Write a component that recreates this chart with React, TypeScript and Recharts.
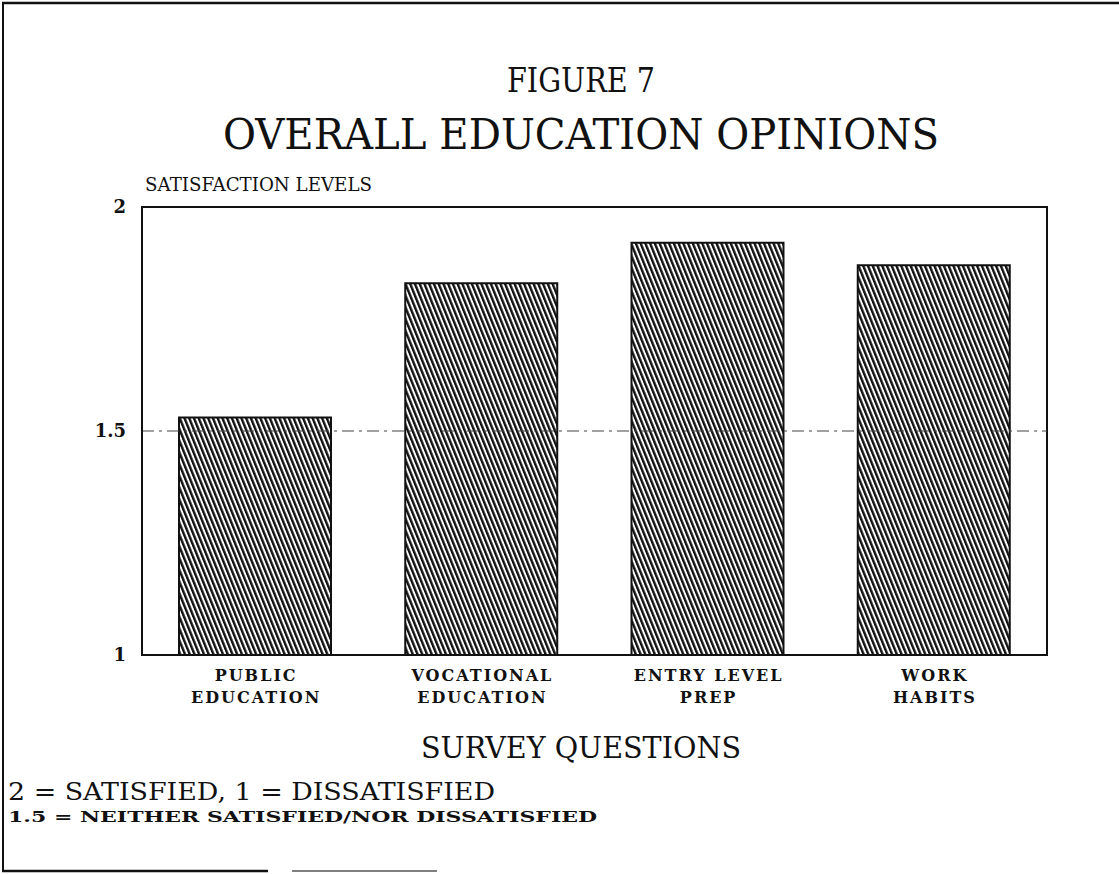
import { Bar, BarChart, ReferenceArea, ReferenceLine, XAxis, YAxis } from 'recharts';

const QUESTIONS = ['PUBLIC EDUCATION', 'VOCATIONAL EDUCATION', 'ENTRY LEVEL PREP', 'WORK HABITS'];
const QUESTION_LINES = [
  ['PUBLIC', 'EDUCATION'],
  ['VOCATIONAL', 'EDUCATION'],
  ['ENTRY LEVEL', 'PREP'],
  ['WORK', 'HABITS'],
];
const SATISFACTION = [1.53, 1.83, 1.92, 1.87];
const Y_TICKS = [1, 1.5, 2];
const Y_DOMAIN = [1, 2];
const NEUTRAL_LEVEL = 1.5;

const SERIF = '"DejaVu Serif", "Liberation Serif", serif';
const INK = '#111';

const data = QUESTIONS.map((question, i) => ({ question, value: SATISFACTION[i] }));

function QuestionTick(props: any) {
  const { x, y, payload } = props;
  const idx = QUESTIONS.indexOf(payload.value);
  const lines = QUESTION_LINES[idx] ?? [payload.value];
  return (
    <text
      x={x}
      y={y}
      textAnchor="middle"
      fontFamily={SERIF}
      fontWeight="bold"
      fontSize={16}
      letterSpacing={2}
      fill={INK}
    >
      {lines.map((line, i) => (
        <tspan key={line} x={x + 1} dy={i === 0 ? 18 : 22}>
          {line}
        </tspan>
      ))}
    </text>
  );
}

function Frame() {
  // scanned page border + all the titles / notes around the plot
  return (
    <svg
      width={1119}
      height={874}
      style={{ position: 'absolute', left: 0, top: 0, pointerEvents: 'none' }}
    >
      <line x1={3} y1={3} x2={3} y2={871} stroke={INK} strokeWidth={2} />
      <line x1={2} y1={3} x2={1119} y2={3} stroke={INK} strokeWidth={2.5} />
      <line x1={2} y1={871} x2={268} y2={871} stroke={INK} strokeWidth={2.5} />
      <line x1={292} y1={871} x2={437} y2={871} stroke="#555" strokeWidth={1.5} />

      <g fontFamily={SERIF} fill={INK}>
        <text x={581} y={92} textAnchor="middle" fontSize={33} textLength={148} lengthAdjust="spacingAndGlyphs">
          FIGURE 7
        </text>
        <text x={581} y={149} textAnchor="middle" fontSize={42} textLength={716} lengthAdjust="spacingAndGlyphs">
          OVERALL EDUCATION OPINIONS
        </text>
        <text x={145} y={191} fontSize={19} textLength={227} lengthAdjust="spacingAndGlyphs">
          SATISFACTION LEVELS
        </text>
        <text x={581} y={758} textAnchor="middle" fontSize={30} textLength={320} lengthAdjust="spacingAndGlyphs">
          SURVEY QUESTIONS
        </text>
        <text x={8} y={800} fontSize={25} textLength={487} lengthAdjust="spacingAndGlyphs">
          2 = SATISFIED, 1 = DISSATISFIED
        </text>
        <text x={8} y={822} fontSize={15} fontWeight="bold" textLength={589} lengthAdjust="spacingAndGlyphs">
          1.5 = NEITHER SATISFIED/NOR DISSATISFIED
        </text>
      </g>
    </svg>
  );
}

export default function App() {
  return (
    <div style={{ position: 'absolute', left: 0, top: 0, width: 1119, height: 874, background: '#fff' }}>
      <BarChart
        width={1119}
        height={874}
        data={data}
        barSize={152}
        margin={{ top: 207, right: 72, bottom: 159, left: 92 }}
      >
        <defs>
          <pattern
            id="hatch"
            patternUnits="userSpaceOnUse"
            width={4.4}
            height={4.4}
            patternTransform="rotate(-22)"
          >
            <rect width={4.4} height={4.4} fill="#fff" />
            <rect width={2.4} height={4.4} fill={INK} />
          </pattern>
        </defs>
        <XAxis
          dataKey="question"
          interval={0}
          tick={<QuestionTick />}
          tickLine={false}
          axisLine={{ stroke: INK, strokeWidth: 2 }}
          height={60}
        />
        <YAxis
          domain={Y_DOMAIN}
          ticks={Y_TICKS}
          allowDataOverflow
          tickLine={false}
          axisLine={{ stroke: INK, strokeWidth: 2 }}
          tick={{ fill: INK, fontSize: 18, fontWeight: 'bold', fontFamily: SERIF, dx: -8 }}
          width={50}
        />
        {/* plot box (top + right edges) */}
        <ReferenceArea
          y1={Y_DOMAIN[0]}
          y2={Y_DOMAIN[1]}
          fill="none"
          stroke={INK}
          strokeWidth={2}
          fillOpacity={0}
        />
        <ReferenceLine
          y={NEUTRAL_LEVEL}
          stroke="#444"
          strokeWidth={1.2}
          strokeDasharray="12 5 3 5"
        />
        <Bar
          dataKey="value"
          fill="url(#hatch)"
          stroke={INK}
          strokeWidth={2}
          isAnimationActive={false}
        />
      </BarChart>
      <Frame />
    </div>
  );
}
